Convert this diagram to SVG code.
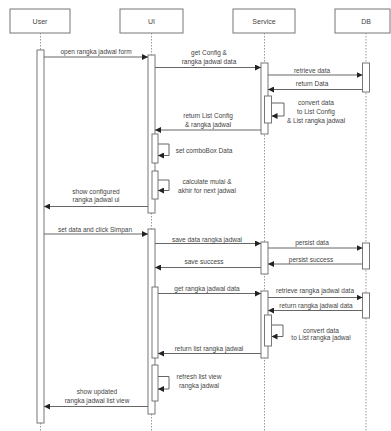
<svg xmlns="http://www.w3.org/2000/svg" width="391" height="431" viewBox="0 0 391 431">
<defs>
<marker id="ah" markerUnits="userSpaceOnUse" markerWidth="6" markerHeight="6" refX="6" refY="3" orient="auto">
<path d="M0,0 L6,3 L0,6 z" fill="#222"/>
</marker>
<style>
.hdr{fill:#fff;stroke:#777;stroke-width:1}
.life{stroke:#999;stroke-width:1;stroke-dasharray:1.5 1.5;fill:none}
.act{fill:#fff;stroke:#777;stroke-width:1}
.msg{stroke:#666;stroke-width:1;fill:none;marker-end:url(#ah)}
.t{font-family:"Liberation Sans",Arial,sans-serif;font-size:6.5px;fill:#444;text-anchor:middle}
.h{font-family:"Liberation Sans",Arial,sans-serif;font-size:7px;fill:#444;text-anchor:middle}
</style>
</defs>
<rect width="391" height="431" fill="#fff"/>

<g id="user">
<rect class="hdr" x="10" y="9" width="60" height="24"/>
<text class="h" x="40" y="23.5">User</text>
<line class="life" x1="40.5" y1="33" x2="40.5" y2="431"/>
<rect class="act" x="37" y="50" width="7" height="373"/>
</g>

<g id="ui">
<rect class="hdr" x="120" y="9" width="63" height="24"/>
<text class="h" x="151.5" y="23.5">UI</text>
<line class="life" x1="151.5" y1="33" x2="151.5" y2="431"/>
<rect class="act" x="148" y="55" width="7" height="158"/>
<rect class="act" x="152" y="134" width="6" height="29"/>
<rect class="act" x="152" y="171" width="6" height="28"/>
<rect class="act" x="148" y="229" width="7" height="185"/>
<rect class="act" x="152" y="287" width="6" height="71"/>
<rect class="act" x="152" y="365" width="6" height="36"/>
</g>

<g id="service">
<rect class="hdr" x="233" y="9" width="62" height="24"/>
<text class="h" x="264" y="23.5">Service</text>
<line class="life" x1="264.5" y1="33" x2="264.5" y2="431"/>
<rect class="act" x="261" y="63" width="7" height="71"/>
<rect class="act" x="264.5" y="96" width="7" height="27"/>
<rect class="act" x="261" y="242" width="7" height="32"/>
<rect class="act" x="261" y="291" width="7" height="67"/>
<rect class="act" x="264.5" y="315" width="7" height="31"/>
</g>

<g id="db">
<rect class="hdr" x="335" y="9" width="55" height="24"/>
<text class="h" x="366" y="23.5">DB</text>
<line class="life" x1="366" y1="33" x2="366" y2="431"/>
<rect class="act" x="362.5" y="63" width="7" height="29"/>
<rect class="act" x="362.5" y="243" width="7" height="26"/>
<rect class="act" x="362.5" y="293" width="7" height="25"/>
</g>

<g id="connectors">
<line class="msg" x1="44" y1="57" x2="148" y2="57"/>
<line class="msg" x1="155" y1="67.5" x2="261" y2="67.5"/>
<line class="msg" x1="268" y1="75" x2="362.5" y2="75"/>
<line class="msg" x1="362.5" y1="89.5" x2="268" y2="89.5"/>
<path class="msg" d="M271.5,103 H284 V116 H271.5"/>
<line class="msg" x1="261" y1="130" x2="155" y2="130"/>
<path class="msg" d="M158,144 H169 V155.5 H158"/>
<path class="msg" d="M158,180 H169 V190.5 H158"/>
<line class="msg" x1="148" y1="206.5" x2="44" y2="206.5"/>
<line class="msg" x1="44" y1="234" x2="148" y2="234"/>
<line class="msg" x1="155" y1="243.5" x2="261" y2="243.5"/>
<line class="msg" x1="268" y1="248" x2="362.5" y2="248"/>
<line class="msg" x1="362.5" y1="264" x2="268" y2="264"/>
<line class="msg" x1="261" y1="267.5" x2="155" y2="267.5"/>
<line class="msg" x1="158" y1="293.5" x2="261" y2="293.5"/>
<line class="msg" x1="268" y1="297.5" x2="362.5" y2="297.5"/>
<line class="msg" x1="362.5" y1="310.5" x2="268" y2="310.5"/>
<path class="msg" d="M271.5,325 H283 V336.5 H271.5"/>
<line class="msg" x1="261" y1="353.5" x2="158" y2="353.5"/>
<path class="msg" d="M158,376.5 H169 V389 H158"/>
<line class="msg" x1="148" y1="406.5" x2="44" y2="406.5"/>

<text class="t" x="96" y="54">open rangka jadwal form</text>
<text class="t" x="209" y="55">get Config &amp;</text>
<text class="t" x="209" y="63.5">rangka jadwal data</text>
<text class="t" x="312" y="72.5">retrieve data</text>
<text class="t" x="312" y="86">return Data</text>
<text class="t" x="316" y="105">convert data</text>
<text class="t" x="316" y="114">to List Config</text>
<text class="t" x="316" y="123">&amp; List rangka jadwal</text>
<text class="t" x="208" y="117.5">return List Config</text>
<text class="t" x="208" y="126.5">&amp; rangka jadwal</text>
<text class="t" x="204" y="152.5">set comboBox Data</text>
<text class="t" x="207" y="183.5">calculate mulai &amp;</text>
<text class="t" x="207" y="192.5">akhir for next jadwal</text>
<text class="t" x="96" y="194">show configured</text>
<text class="t" x="96" y="201.5">rangka jadwal ui</text>
<text class="t" x="95" y="231.5">set data and click Simpan</text>
<text class="t" x="207" y="241.5">save data rangka jadwal</text>
<text class="t" x="312" y="245">persist data</text>
<text class="t" x="311" y="261.5">persist success</text>
<text class="t" x="204" y="264">save success</text>
<text class="t" x="207" y="291">get rangka jadwal data</text>
<text class="t" x="315" y="292.5">retrieve rangka jadwal data</text>
<text class="t" x="316" y="308">return rangka jadwal data</text>
<text class="t" x="321" y="332.5">convert data</text>
<text class="t" x="321" y="340">to List rangka jadwal</text>
<text class="t" x="209" y="350.5">return list rangka jadwal</text>
<text class="t" x="199" y="379">refresh list view</text>
<text class="t" x="199" y="388">rangka jadwal</text>
<text class="t" x="97" y="394">show updated</text>
<text class="t" x="97" y="403">rangka jadwal list view</text>
</g>
</svg>
